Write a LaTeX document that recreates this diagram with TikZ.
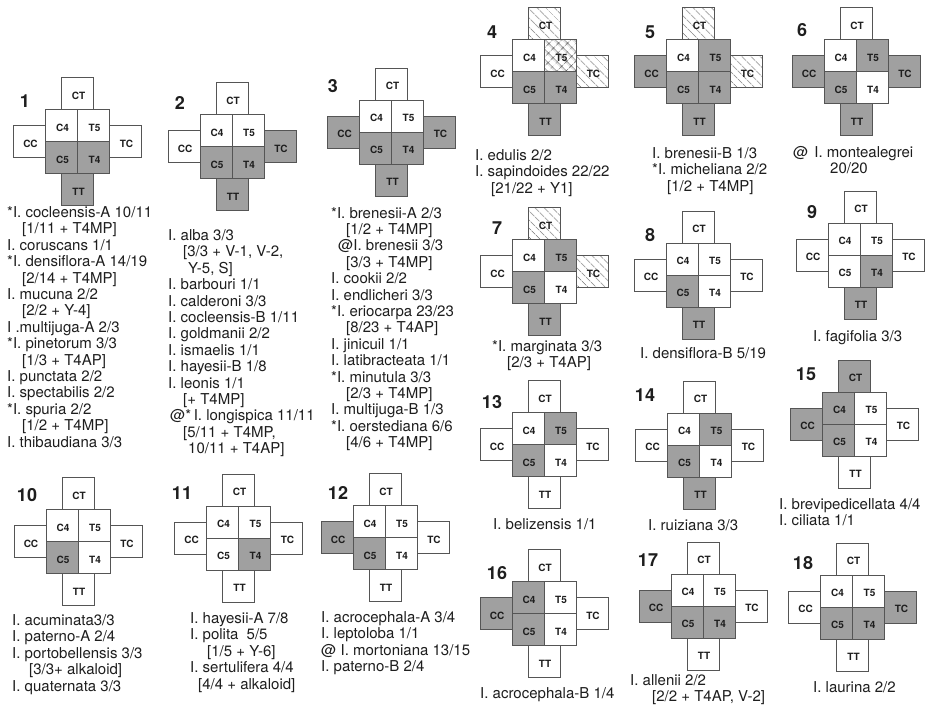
\documentclass[tikz,border=0pt]{standalone}
\usepackage{fontspec}
\setmainfont{TeX Gyre Heros}
\usetikzlibrary{patterns.meta}
\definecolor{cellgray}{RGB}{160,160,160}
\definecolor{linec}{RGB}{85,85,85}
\definecolor{hatchc}{RGB}{60,60,60}
\definecolor{txtc}{RGB}{30,30,30}
\newcommand\indt{\hspace*{15pt}}
\tikzset{
  cell/.style={draw=linec, line width=0.8pt, minimum width=32pt, minimum height=32pt, inner sep=0pt, outer sep=0pt},
  lab/.style={font=\bfseries\fontsize{10}{10}\selectfont, text=txtc, inner sep=0pt},
  num/.style={font=\bfseries\fontsize{18}{18}\selectfont, text=txtc, inner sep=0pt},
  txt/.style={font=\fontsize{15}{16}\selectfont, text=txtc, inner sep=0pt},
  w/.style={fill=white},
  g/.style={fill=cellgray},
  h/.style={pattern={Lines[angle=-45,distance=6.5pt,line width=0.7pt]}, pattern color=hatchc},
  xh/.style={pattern={Hatch[angle=45,distance=6.5pt,line width=0.7pt]}, pattern color=hatchc},
  fsel/.style={f#1},
}
\newcommand\pdiag[4]{%
  \begin{scope}[shift={(#2,#3)}, fCT/.style=w, fC4/.style=w, fT5/.style=w, fCC/.style=w, fTC/.style=w, fC5/.style=w, fT4/.style=w, fTT/.style=w, #4]
    \foreach \nm/\px/\py in {CT/0/-48, C4/-16/-16, T5/16/-16, CC/-48/0, TC/48/0, C5/-16/16, T4/16/16, TT/0/48}{
      \node[cell, fsel/.expanded=\nm] (d#1\nm) at (\px,\py) {};
      \node[lab] (d#1\nm-l) at ([shift={(1,2)}]d#1\nm.center) {\nm};
    }
  \end{scope}}
\newcommand\tblock[4]{%
  \foreach \l [count=\i from 0] in {#4}{
    \node[txt, anchor=base west] (t#1-\i) at (#2, #3+5.4+\i*16.4) {\l};
  }}
\begin{document}
\begin{tikzpicture}[x=1pt,y=-1pt]
\fill[white] (0,0) rectangle (935,710);
\useasboundingbox (0,0) rectangle (935,710);

% diagrams
\pdiag{1}{77.5}{141.5}{fC5/.style=g, fT4/.style=g, fTT/.style=g}
\pdiag{2}{232}{146.5}{fTC/.style=g, fC5/.style=g, fT4/.style=g, fTT/.style=g}
\pdiag{3}{391.5}{132}{fCC/.style=g, fTC/.style=g, fC5/.style=g, fT4/.style=g, fTT/.style=g}
\pdiag{4}{544.5}{71.5}{fCT/.style=h, fT5/.style=xh, fTC/.style=h, fC5/.style=g, fT4/.style=g, fTT/.style=g}
\pdiag{5}{698.5}{71.5}{fCT/.style=h, fTC/.style=h, fT5/.style=g, fCC/.style=g, fC5/.style=g, fT4/.style=g, fTT/.style=g}
\pdiag{6}{856}{71.5}{fT5/.style=g, fCC/.style=g, fTC/.style=g, fC5/.style=g, fTT/.style=g}
\pdiag{7}{544.5}{271.5}{fCT/.style=h, fTC/.style=h, fT5/.style=g, fC5/.style=g, fTT/.style=g}
\pdiag{8}{698}{275}{fC5/.style=g, fTT/.style=g}
\pdiag{9}{860}{255}{fT4/.style=g, fTT/.style=g}
\pdiag{10}{78}{541.5}{fC5/.style=g}
\pdiag{11}{238.5}{538}{fT4/.style=g}
\pdiag{12}{385}{537.5}{fCC/.style=g, fC5/.style=g}
\pdiag{13}{544}{444.5}{fT5/.style=g, fC5/.style=g}
\pdiag{14}{699.5}{445}{fT5/.style=g, fC5/.style=g, fTT/.style=g}
\pdiag{15}{854.5}{424}{fCT/.style=g, fC4/.style=g, fCC/.style=g, fC5/.style=g}
\pdiag{16}{544}{613.5}{fC4/.style=g, fCC/.style=g, fC5/.style=g}
\pdiag{17}{703}{606}{fCC/.style=g, fC5/.style=g, fT4/.style=g}
\pdiag{18}{852.5}{607}{fTC/.style=g, fC5/.style=g, fT4/.style=g}

% numbers
\node[num] (n1) at (25,101) {1};
\node[num] (n2) at (180,103) {2};
\node[num] (n3) at (333,86) {3};
\node[num] (n4) at (492,32) {4};
\node[num] (n5) at (650,32) {5};
\node[num] (n6) at (802,30) {6};
\node[num] (n7) at (497,228) {7};
\node[num] (n8) at (650,235) {8};
\node[num] (n9) at (812,212) {9};
\node[num] (n10) at (27,495) {10};
\node[num] (n11) at (182,493) {11};
\node[num] (n12) at (338,493) {12};
\node[num] (n13) at (492,402) {13};
\node[num] (n14) at (645,395) {14};
\node[num] (n15) at (806,374) {15};
\node[num] (n16) at (497,573) {16};
\node[num] (n17) at (648,560) {17};
\node[num] (n18) at (803,563) {18};

% texts
\tblock{1}{7}{212}{*I. cocleensis-A 10/11, \indt[1/11 + T4MP], I. coruscans 1/1, *I. densiflora-A 14/19, \indt[2/14 + T4MP], I. mucuna 2/2, \indt[2/2 + Y-4], I .multijuga-A 2/3, *I. pinetorum 3/3, \indt[1/3 + T4AP], I. punctata 2/2, I. spectabilis 2/2, *I. spuria 2/2, \indt[1/2 + T4MP], I. thibaudiana 3/3}
\tblock{2}{168}{235}{I. alba 3/3, {\indt[3/3 + V-1, V-2,}, {\hspace*{20pt}Y-5, S]}, I. barbouri 1/1, I. calderoni 3/3, I. cocleensis-B 1/11, I. goldmanii 2/2, I. ismaelis 1/1, I. hayesii-B 1/8, I. leonis 1/1, \indt[+ T4MP], \hspace*{2pt}@*\,I. longispica 11/11, {\indt[5/11 + T4MP,}, \hspace*{20pt}10/11 + T4AP]}
\tblock{3}{331}{212.7}{*I. brenesii-A 2/3, \indt[1/2 + T4MP], \hspace*{7pt}@I. brenesii 3/3, \indt[3/3 + T4MP], I. cookii 2/2, I. endlicheri 3/3, *I. eriocarpa 23/23, \indt[8/23 + T4AP], I. jinicuil 1/1, I. latibracteata 1/1, *I. minutula 3/3, \indt[2/3 + T4MP], I. multijuga-B 1/3, *I. oerstediana 6/6, \indt[4/6 + T4MP]}
\tblock{4}{475}{155}{I. edulis 2/2, I. sapindoides 22/22, \hspace*{16pt}[21/22 + Y1]}
\tblock{5}{652}{153}{I. brenesii-B 1/3, *I. micheliana 2/2, \indt[1/2 + T4MP]}
\tblock{6}{793}{152}{@\hspace*{6pt}I. montealegrei, \hspace*{37pt}20/20}
\tblock{7}{492}{346}{*I. marginata 3/3, \indt[2/3 + T4AP]}
\tblock{8}{640}{353}{I. densiflora-B 5/19}
\tblock{9}{813}{336}{I. fagifolia 3/3}
\tblock{10}{12}{620}{I. acuminata3/3, I. paterno-A 2/4, I. portobellensis 3/3, \hspace*{17pt}[3/3+ alkaloid], I. quaternata 3/3}
\tblock{11}{190}{618}{I. hayesii-A 7/8, I. polita\hspace*{4pt} 5/5, \hspace*{17pt}[1/5 + Y-6], I. sertulifera 4/4, \hspace*{8pt}[4/4 + alkaloid]}
\tblock{12}{321}{617}{I. acrocephala-A 3/4, I. leptoloba 1/1, @ I. mortoniana 13/15, I. paterno-B 2/4}
\tblock{13}{493}{524}{I. belizensis 1/1}
\tblock{14}{648}{525}{I. ruiziana 3/3}
\tblock{15}{779}{504}{I. brevipedicellata 4/4, I. ciliata 1/1}
\tblock{16}{480}{693}{I. acrocephala-B 1/4}
\tblock{17}{630}{680}{I. allenii 2/2, {\hspace*{22pt}[2/2 + T4AP, V-2]}}
\tblock{18}{813}{687}{I. laurina 2/2}
\end{tikzpicture}
\end{document}
